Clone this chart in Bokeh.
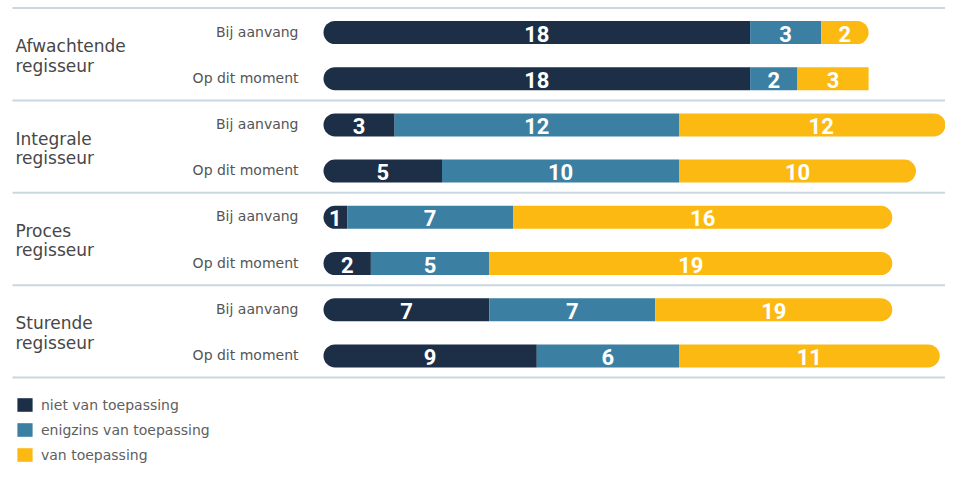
from bokeh.plotting import figure
from bokeh.models import Range1d, Legend, LegendItem, ColumnDataSource, CDSView, IndexFilter
from bokeh.core.properties import value
from bokeh.embed import file_html
from bokeh.resources import INLINE

# ---------------- data ----------------
groups = ["Afwachtende regisseur", "Integrale regisseur", "Proces regisseur", "Sturende regisseur"]
moments = ["Bij aanvang", "Op dit moment"]
series_labels = ["niet van toepassing", "enigzins van toepassing", "van toepassing"]

# printed values per row (group x moment, in reading order)
niet_van_toepassing = [18, 18, 3, 5, 1, 2, 7, 9]
enigzins_van_toepassing = [3, 2, 12, 10, 7, 5, 7, 6]
van_toepassing = [2, 3, 12, 10, 16, 19, 19, 11]
# drawn length of the yellow segment
# (two bars in the original are shorter than their printed label)
van_toepassing_lengte = [2, 3, 12, 10, 16, 17, 10, 11]

# ---------------- style ----------------
DARK = "#1c2f47"
BLUE = "#3b7fa2"
YELLOW = "#fcb912"
SEP = "#c9d7e0"
TEXT = "#474747"
SUB = "#555555"
LEG = "#606060"
NUM_FONT = value("Roboto")
LAB_FONT_NAME = "DejaVu Sans"
LAB_FONT = value(LAB_FONT_NAME)

W, H = 945, 463
PX = 23.7      # pixels per unit
X0 = 323       # pixel of value 0
ROW = 46.2     # pixels per row
Y0 = 32        # pixel of first row centre
R = 12         # corner radius (px)

def xd(px):
    return (px - X0) / PX

def yd(px):
    return px / ROW

n = len(niet_van_toepassing)
rows = list(range(n))
row_labels = [moments[i % 2] for i in rows]

l0 = [0] * n
r0 = list(niet_van_toepassing)
l1 = r0
r1 = [a + b for a, b in zip(r0, enigzins_van_toepassing)]
l2 = r1
r2 = [a + b for a, b in zip(r1, van_toepassing_lengte)]

p = figure(width=W, height=H,
           x_range=Range1d(xd(0), xd(W)),
           y_range=Range1d((H - Y0) / ROW, -Y0 / ROW),
           output_backend="svg", toolbar_location=None,
           min_border=0, x_axis_location=None, y_axis_location=None,
           outline_line_color=None, background_fill_color="white")
p.grid.visible = False

# separators
sep_y = [2 * g - 0.53 for g in range(len(groups) + 1)]
p.segment(x0=[xd(12)] * len(sep_y), x1=[xd(W)] * len(sep_y), y0=sep_y, y1=sep_y,
          line_color=SEP, line_width=2)

BH = 23 / ROW
src0 = ColumnDataSource(dict(y=rows, left=l0, right=r0))
src1 = ColumnDataSource(dict(y=rows, left=l1, right=r1))
src2 = ColumnDataSource(dict(y=rows, left=l2, right=r2))

r_niet = p.hbar(y="y", left="left", right="right", height=BH, source=src0,
                fill_color=DARK, line_color=None, border_radius=(R, 0, 0, R))
r_enig = p.hbar(y="y", left="left", right="right", height=BH, source=src1,
                fill_color=BLUE, line_color=None)
# in the original one yellow bar (Afwachtende, op dit moment) has a square end
square_end = [1]
rounded = [i for i in rows if i not in square_end]
r_van = p.hbar(y="y", left="left", right="right", height=BH, source=src2,
               view=CDSView(filter=IndexFilter(rounded)),
               fill_color=YELLOW, line_color=None, border_radius=(0, R, R, 0))
p.hbar(y="y", left="left", right="right", height=BH, source=src2,
       view=CDSView(filter=IndexFilter(square_end)),
       fill_color=YELLOW, line_color=None)

# segment numbers
for lefts, rights, vals in ((l0, r0, niet_van_toepassing),
                            (l1, r1, enigzins_van_toepassing),
                            (l2, r2, van_toepassing)):
    p.text(x=[(a + b) / 2 for a, b in zip(lefts, rights)],
           y=[r + yd(1) for r in rows],
           text=[str(v) for v in vals],
           text_color="white", text_font=NUM_FONT, text_font_style="bold",
           text_font_size="22px", text_align="center", text_baseline="middle")

# moment labels
p.text(x=[xd(298)] * n, y=[r - yd(1) for r in rows], text=row_labels,
       text_color=SUB, text_font=LAB_FONT, text_font_size="14px",
       text_align="right", text_baseline="middle")

# group labels (two lines)
first = [g.split(" ")[0] for g in groups]
second = [g.split(" ")[1] for g in groups]
mids = [2 * g + 0.5 for g in range(len(groups))]
p.text(x=[xd(15)] * len(groups), y=[m - yd(9.5) for m in mids], text=first,
       text_color=TEXT, text_font=LAB_FONT, text_font_size="17px",
       text_align="left", text_baseline="alphabetic")
p.text(x=[xd(15)] * len(groups), y=[m + yd(10) for m in mids], text=second,
       text_color=TEXT, text_font=LAB_FONT, text_font_size="17px",
       text_align="left", text_baseline="alphabetic")

legend = Legend(items=[LegendItem(label=series_labels[0], renderers=[r_niet]),
                       LegendItem(label=series_labels[1], renderers=[r_enig]),
                       LegendItem(label=series_labels[2], renderers=[r_van])],
                location=(15, 0), orientation="vertical",
                glyph_width=19, glyph_height=17, label_height=17,
                label_standoff=7, spacing=8, padding=0, margin=0,
                border_line_alpha=0, background_fill_alpha=0,
                label_text_font=LAB_FONT_NAME, label_text_font_size="14px",
                label_text_color=LEG)
p.add_layout(legend)

open("out.html", "w").write(file_html(p, INLINE))
